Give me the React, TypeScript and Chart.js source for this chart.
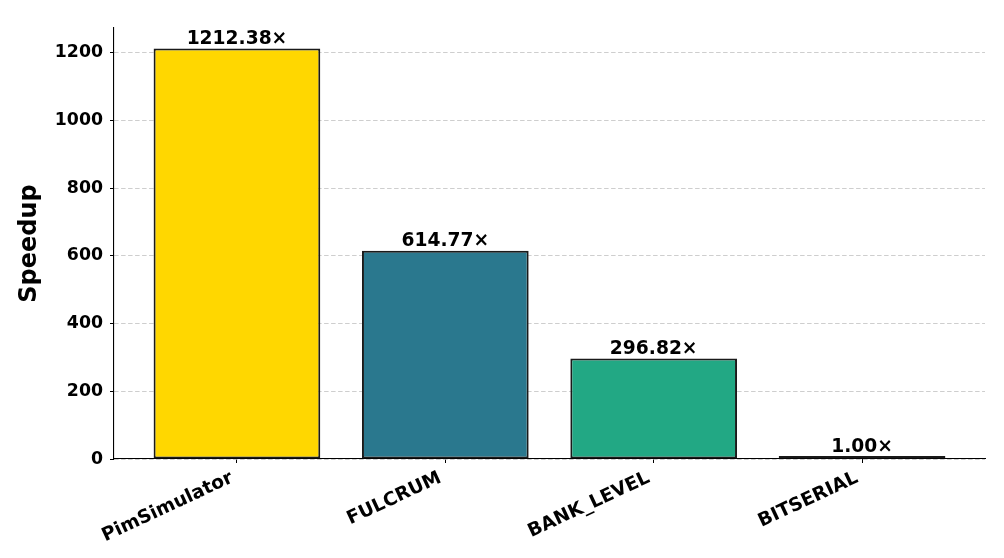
import React, { useEffect, useRef } from "react";
import { Chart, registerables } from "chart.js";

Chart.register(...registerables);

const categories = ["PimSimulator", "FULCRUM", "BANK_LEVEL", "BITSERIAL"];
const speedups = [1212.38, 614.77, 296.82, 1.0];
const barColors = ["#FFD700", "#2A788E", "#22A884", "#440154"];
const yTicks = [0, 200, 400, 600, 800, 1000, 1200];
const yMax = 1273;

const FONT = "'DejaVu Sans', sans-serif";

const valueLabels = {
  id: "valueLabels",
  afterDatasetsDraw(chart: any) {
    const ctx = chart.ctx;
    const meta = chart.getDatasetMeta(0);
    ctx.save();
    ctx.font = `bold 18.67px ${FONT}`;
    ctx.fillStyle = "#000";
    ctx.textAlign = "center";
    ctx.textBaseline = "bottom";
    meta.data.forEach((bar: any, i: number) => {
      ctx.fillText(speedups[i].toFixed(2) + "×", bar.x, bar.y);
    });
    ctx.restore();
  },
};

export default function App() {
  const ref = useRef<HTMLCanvasElement | null>(null);
  useEffect(() => {
    document.body.style.margin = "0";
    const chart = new Chart(ref.current!, {
      type: "bar",
      data: {
        datasets: [
          {
            data: categories.map((_, i) => ({ x: i, y: speedups[i] })),
            backgroundColor: barColors,
            borderColor: "#1a1a1a",
            borderWidth: 2,
            borderSkipped: false,
            barPercentage: 0.8,
            categoryPercentage: 1,
            minBarLength: 3,
          },
        ],
      },
      options: {
        animation: false,
        responsive: true,
        maintainAspectRatio: false,
        layout: { padding: { top: 28, right: 19, left: 0, bottom: 0 } },
        plugins: { legend: { display: false }, tooltip: { enabled: false } },
        scales: {
          x: {
            type: "linear",
            min: -0.59,
            max: 3.59,
            offset: false,
            afterBuildTicks: (s: any) => {
              s.ticks = categories.map((_, i) => ({ value: i }));
            },
            afterFit: (s: any) => {
              s.height = 99;
            },
            ticks: {
              callback: (v: any) => categories[Math.round(Number(v))] ?? "",
              minRotation: 25,
              maxRotation: 25,
              autoSkip: false,
              color: "#000",
              padding: 4,
              labelOffset: -5,
              font: { family: FONT, weight: "bold", size: 18.67 },
            },
            grid: {
              offset: false,
              drawOnChartArea: false,
              drawTicks: true,
              tickLength: 4,
              tickColor: "#000",
              tickWidth: 1,
            },
            border: { display: true, color: "#000", width: 1.1 },
          },
          y: {
            min: 0,
            max: yMax,
            afterBuildTicks: (s: any) => {
              s.ticks = yTicks.map((v) => ({ value: v }));
            },
            afterFit: (s: any) => {
              s.width = 114;
            },
            ticks: {
              callback: (v: any) => String(v),
              color: "#000",
              padding: 7,
              font: { family: FONT, weight: "bold", size: 17.33 },
            },
            grid: {
              color: "rgba(190,190,190,0.75)",
              lineWidth: 1,
              drawTicks: true,
              tickLength: 4,
              tickColor: "#000",
              tickWidth: 1,
              tickBorderDash: [],
            },
            border: { display: true, color: "#000", width: 1.1, dash: [4.5, 2.5] },
            title: {
              display: true,
              text: "Speedup",
              color: "#000",
              padding: { top: 15, bottom: 0 },
              font: { family: FONT, weight: "bold", size: 24 },
            },
          },
        },
      },
      plugins: [valueLabels],
    } as any);
    return () => chart.destroy();
  }, []);
  return (
    <div style={{ position: "absolute", left: 0, top: 0, width: 1004, height: 558, background: "#fff" }}>
      <canvas ref={ref} />
    </div>
  );
}
